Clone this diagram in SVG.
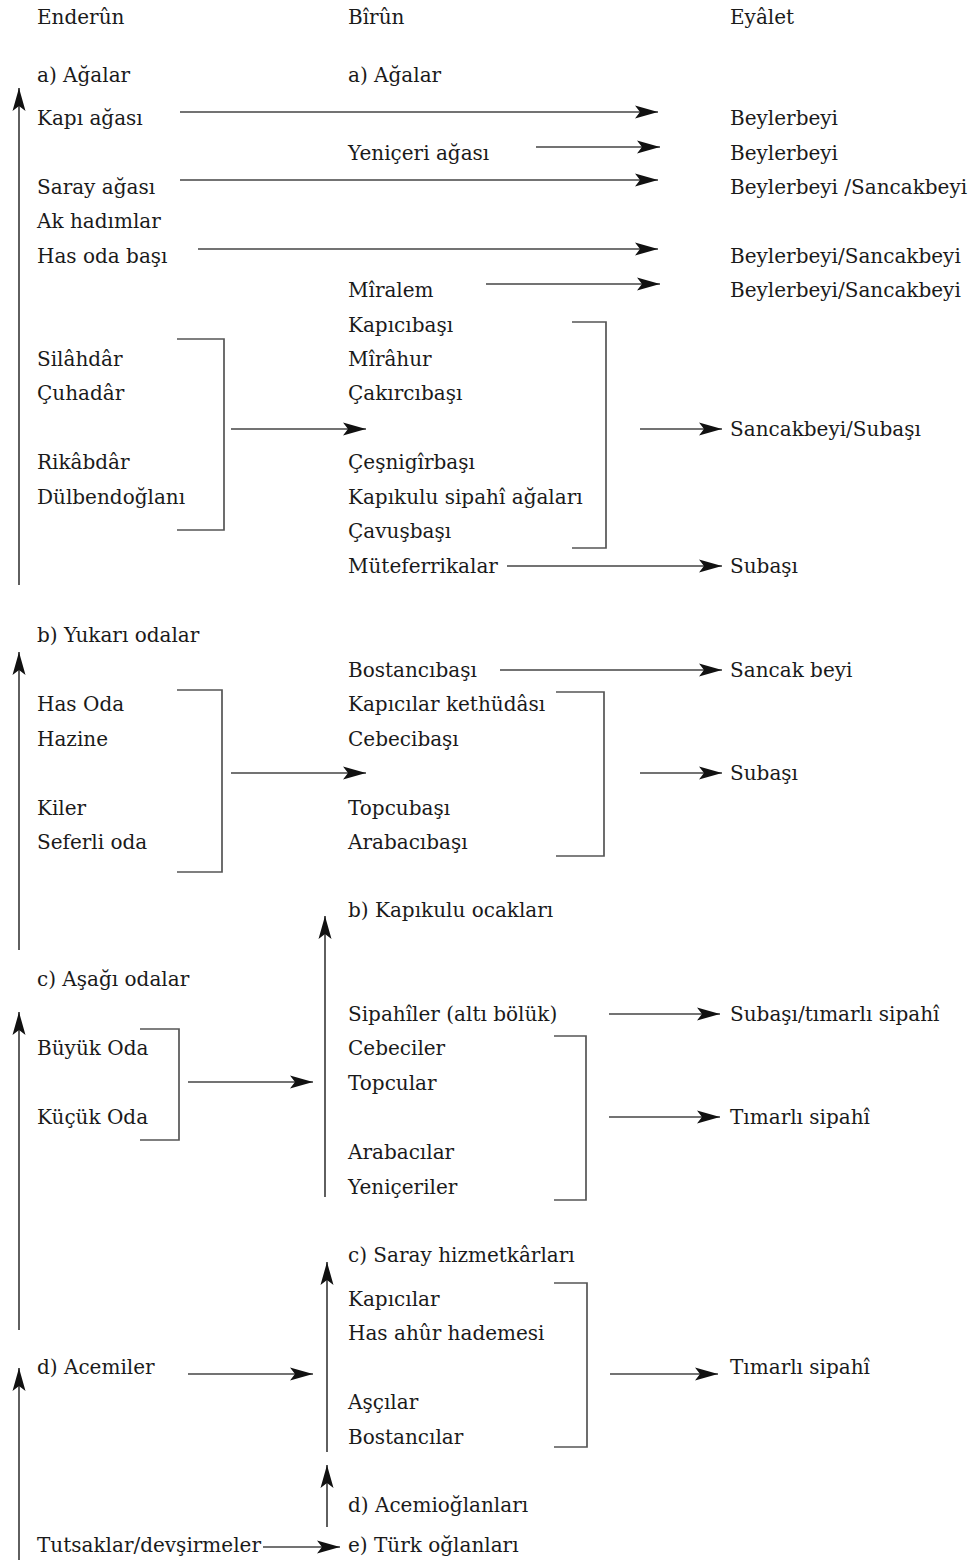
<svg xmlns="http://www.w3.org/2000/svg" width="974" height="1562" viewBox="0 0 974 1562">
<style>
text{font-family:"DejaVu Serif","Liberation Serif",serif;font-size:20px;fill:#1a1a1a}
.ar{stroke:#444;stroke-width:1.7;fill:none;marker-end:url(#ah)}
.br{stroke:#555;stroke-width:1.7;fill:none}
</style>
<defs>
<marker id="ah" markerUnits="userSpaceOnUse" markerWidth="26" markerHeight="16" refX="23" refY="8" orient="auto">
<path d="M0,1.5 L23,8 L0,14.5 L5,8 Z" fill="#111"/>
</marker>
</defs>
<rect width="974" height="1562" fill="#fff"/>
<g id="headers">
<text x="37" y="24">Enderûn</text>
<text x="348" y="24">Bîrûn</text>
<text x="730" y="24">Eyâlet</text>
</g>
<g id="enderun">
<text x="37" y="82">a) Ağalar</text>
<text x="37" y="125">Kapı ağası</text>
<text x="37" y="194">Saray ağası</text>
<text x="37" y="228">Ak hadımlar</text>
<text x="37" y="263">Has oda başı</text>
<text x="37" y="366">Silâhdâr</text>
<text x="37" y="400">Çuhadâr</text>
<text x="37" y="469">Rikâbdâr</text>
<text x="37" y="504">Dülbendoğlanı</text>
<text x="37" y="642">b) Yukarı odalar</text>
<text x="37" y="711">Has Oda</text>
<text x="37" y="746">Hazine</text>
<text x="37" y="815">Kiler</text>
<text x="37" y="849">Seferli oda</text>
<text x="37" y="986">c) Aşağı odalar</text>
<text x="37" y="1055">Büyük Oda</text>
<text x="37" y="1124">Küçük Oda</text>
<text x="37" y="1374">d) Acemiler</text>
<text x="37" y="1552">Tutsaklar/devşirmeler</text>
</g>
<g id="birun">
<text x="348" y="82">a) Ağalar</text>
<text x="348" y="160">Yeniçeri ağası</text>
<text x="348" y="297">Mîralem</text>
<text x="348" y="332">Kapıcıbaşı</text>
<text x="348" y="366">Mîrâhur</text>
<text x="348" y="400">Çakırcıbaşı</text>
<text x="348" y="469">Çeşnigîrbaşı</text>
<text x="348" y="504">Kapıkulu sipahî ağaları</text>
<text x="348" y="538">Çavuşbaşı</text>
<text x="348" y="573">Müteferrikalar</text>
<text x="348" y="677">Bostancıbaşı</text>
<text x="348" y="711">Kapıcılar kethüdâsı</text>
<text x="348" y="746">Cebecibaşı</text>
<text x="348" y="815">Topcubaşı</text>
<text x="348" y="849">Arabacıbaşı</text>
<text x="348" y="917">b) Kapıkulu ocakları</text>
<text x="348" y="1021">Sipahîler (altı bölük)</text>
<text x="348" y="1055">Cebeciler</text>
<text x="348" y="1090">Topcular</text>
<text x="348" y="1159">Arabacılar</text>
<text x="348" y="1194">Yeniçeriler</text>
<text x="348" y="1262">c) Saray hizmetkârları</text>
<text x="348" y="1306">Kapıcılar</text>
<text x="348" y="1340">Has ahûr hademesi</text>
<text x="348" y="1409">Aşçılar</text>
<text x="348" y="1444">Bostancılar</text>
<text x="348" y="1512">d) Acemioğlanları</text>
<text x="348" y="1552">e) Türk oğlanları</text>
</g>
<g id="eyalet">
<text x="730" y="125">Beylerbeyi</text>
<text x="730" y="160">Beylerbeyi</text>
<text x="730" y="194">Beylerbeyi /Sancakbeyi</text>
<text x="730" y="263">Beylerbeyi/Sancakbeyi</text>
<text x="730" y="297">Beylerbeyi/Sancakbeyi</text>
<text x="730" y="436">Sancakbeyi/Subaşı</text>
<text x="730" y="573">Subaşı</text>
<text x="730" y="677">Sancak beyi</text>
<text x="730" y="780">Subaşı</text>
<text x="730" y="1021">Subaşı/tımarlı sipahî</text>
<text x="730" y="1124">Tımarlı sipahî</text>
<text x="730" y="1374">Tımarlı sipahî</text>
</g>
<g id="brackets">
<path class="br" d="M177,339 H224 V530 H177"/>
<path class="br" d="M572,322 H606 V548 H572"/>
<path class="br" d="M177,690 H222 V872 H177"/>
<path class="br" d="M556,692 H604 V856 H556"/>
<path class="br" d="M140,1029 H179 V1140 H140"/>
<path class="br" d="M554,1036 H586 V1200 H554"/>
<path class="br" d="M554,1283 H587 V1447 H554"/>
</g>
<g id="connectors">
<line class="ar" x1="180" y1="112" x2="658" y2="112"/>
<line class="ar" x1="536" y1="147" x2="660" y2="147"/>
<line class="ar" x1="180" y1="180" x2="658" y2="180"/>
<line class="ar" x1="198" y1="249" x2="658" y2="249"/>
<line class="ar" x1="486" y1="284" x2="660" y2="284"/>
<line class="ar" x1="231" y1="429" x2="366" y2="429"/>
<line class="ar" x1="640" y1="429" x2="722" y2="429"/>
<line class="ar" x1="507" y1="566" x2="722" y2="566"/>
<line class="ar" x1="19" y1="585" x2="19" y2="88"/>
<line class="ar" x1="500" y1="670" x2="722" y2="670"/>
<line class="ar" x1="231" y1="773" x2="366" y2="773"/>
<line class="ar" x1="640" y1="773" x2="722" y2="773"/>
<line class="ar" x1="19" y1="950" x2="19" y2="652"/>
<line class="ar" x1="325" y1="1197" x2="325" y2="916"/>
<line class="ar" x1="609" y1="1014" x2="720" y2="1014"/>
<line class="ar" x1="188" y1="1082" x2="313" y2="1082"/>
<line class="ar" x1="609" y1="1117" x2="720" y2="1117"/>
<line class="ar" x1="19" y1="1330" x2="19" y2="1012"/>
<line class="ar" x1="327" y1="1452" x2="327" y2="1262"/>
<line class="ar" x1="188" y1="1374" x2="313" y2="1374"/>
<line class="ar" x1="610" y1="1374" x2="718" y2="1374"/>
<line class="ar" x1="19" y1="1560" x2="19" y2="1368"/>
<line class="ar" x1="327" y1="1527" x2="327" y2="1465"/>
<line class="ar" x1="263" y1="1547" x2="340" y2="1547"/>
</g>
</svg>
